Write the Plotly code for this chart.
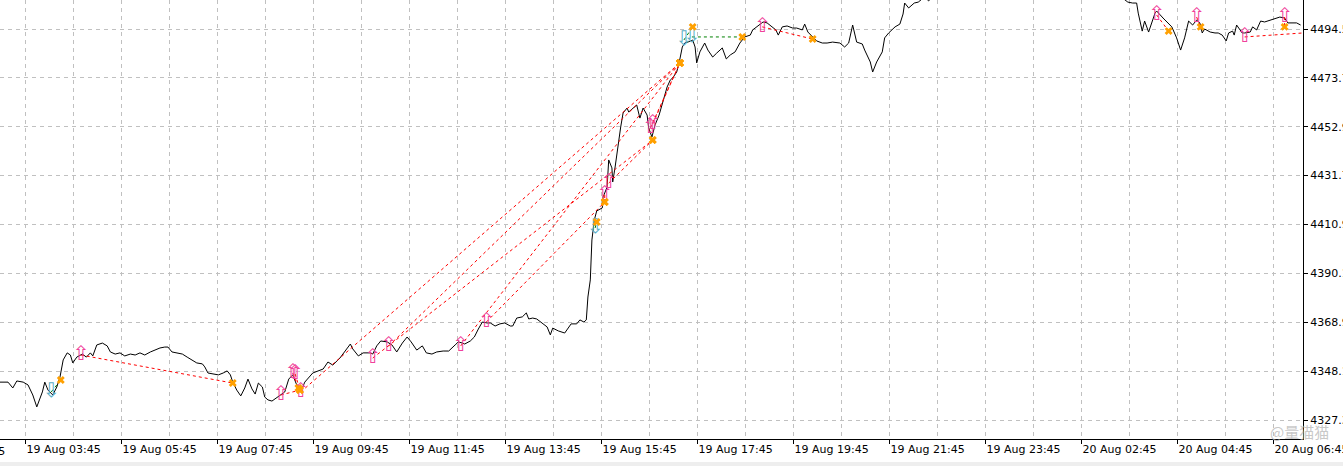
import plotly.graph_objects as go

# chart-time minutes from 19 Aug 03:45 (M5 bars, the daily break hour is skipped)
t = [
    -32, -22, -16, -11, -3, 3, 9, 14, 21, 24,
    28, 34, 39, 43, 47, 52, 56, 59, 64, 71,
    76, 81, 84, 89, 96, 102, 106, 112, 118, 124,
    131, 137, 143, 149, 156, 162, 168, 174, 178, 183,
    189, 196, 202, 208, 214, 221, 224, 228, 234, 241,
    247, 252, 256, 259, 264, 269, 274, 278, 283, 287,
    291, 296, 299, 303, 308, 313, 318, 324, 329, 334,
    338, 341, 346, 349, 359, 368, 372, 378, 384, 393,
    399, 406, 409, 416, 422, 431, 434, 439, 444, 452,
    458, 464, 471, 477, 482, 489, 496, 501, 508, 514,
    522, 529, 537, 541, 546, 549, 556, 561, 566, 571,
    577, 581, 587, 593, 599, 606, 609, 614, 621, 626,
    629, 634, 639, 646, 652, 656, 659, 666, 674, 682,
    689, 693, 698, 701, 703, 706, 708, 711, 714, 721,
    722, 727, 729, 733, 734, 737, 741, 744, 747, 752,
    754, 759, 764, 768, 772, 777, 779, 783, 787, 792,
    797, 802, 806, 809, 814, 817, 821, 824, 828, 834,
    837, 839, 843, 849, 853, 859, 864, 871, 876, 881,
    887, 893, 899, 906, 909, 916, 922, 927, 933, 938,
    941, 946, 952, 959, 964, 971, 974, 978, 984, 989,
    996, 1002, 1009, 1018, 1024, 1029, 1034, 1039, 1046, 1049,
    1056, 1059, 1064, 1071, 1074, 1079, 1087, 1093, 1097, 1099,
    1104, 1111, 1116, 1119, 1124, 1129, 1136, 1156, 1193, 1231,
    1268, 1306, 1343, 1368, 1374, 1378, 1384, 1389, 1391, 1396,
    1399, 1404, 1412, 1414, 1422, 1428, 1433, 1439, 1444, 1449,
    1454, 1459, 1464, 1468, 1471, 1474, 1481, 1487, 1491, 1496,
    1501, 1504, 1509, 1511, 1514, 1521, 1524, 1531, 1534, 1539,
    1544, 1549, 1556, 1562, 1568, 1574, 1578, 1589, 1594,
]
price = [
    4343.5, 4343.5, 4341.0, 4344.0, 4343.5, 4342.3, 4338.0, 4332.9, 4339.3, 4343.5,
    4340.1, 4338.0, 4341.4, 4345.7, 4353.0, 4356.0, 4355.1, 4351.7, 4354.2, 4355.5,
    4354.2, 4356.0, 4354.7, 4359.4, 4360.2, 4359.0, 4356.4, 4355.5, 4356.0, 4354.7,
    4355.5, 4355.1, 4356.0, 4355.1, 4356.4, 4357.2, 4358.1, 4358.5, 4358.5, 4356.4,
    4356.0, 4355.5, 4354.2, 4353.0, 4351.7, 4351.3, 4350.0, 4347.4, 4347.0, 4346.6,
    4347.4, 4348.3, 4346.6, 4343.5, 4340.1, 4337.6, 4341.0, 4344.8, 4340.6, 4338.4,
    4343.1, 4341.4, 4337.1, 4335.9, 4335.4, 4336.7, 4338.0, 4339.3, 4344.8, 4346.6,
    4343.1, 4341.0, 4341.0, 4343.5, 4347.4, 4348.7, 4349.1, 4352.1, 4350.8, 4353.8,
    4356.4, 4359.8, 4357.7, 4354.7, 4356.0, 4356.0, 4355.5, 4359.0, 4361.1, 4360.7,
    4359.4, 4356.4, 4360.2, 4362.8, 4360.7, 4357.2, 4359.0, 4356.0, 4355.5, 4356.4,
    4356.8, 4356.8, 4359.4, 4360.7, 4360.2, 4359.8, 4361.1, 4362.8, 4366.2, 4369.2,
    4368.8, 4368.8, 4367.5, 4368.4, 4368.8, 4367.5, 4367.5, 4370.9, 4371.4, 4373.1,
    4370.5, 4370.9, 4370.5, 4368.8, 4367.1, 4363.7, 4366.6, 4365.4, 4364.5, 4368.4,
    4368.4, 4370.1, 4369.2, 4370.1, 4379.9, 4387.2, 4404.3, 4412.8, 4416.7, 4418.0,
    4422.7, 4426.9, 4438.5, 4435.1, 4429.1, 4435.5, 4445.8, 4452.6, 4458.6, 4460.7,
    4459.0, 4460.7, 4462.0, 4456.4, 4460.7, 4457.7, 4452.2, 4448.3, 4453.5, 4457.7,
    4464.1, 4469.7, 4472.7, 4473.6, 4476.1, 4480.0, 4486.8, 4488.5, 4488.9, 4489.8,
    4486.8, 4480.0, 4484.7, 4488.5, 4485.5, 4482.5, 4484.2, 4486.4, 4481.7, 4483.4,
    4484.7, 4488.5, 4491.1, 4491.9, 4494.1, 4495.8, 4497.5, 4497.1, 4495.4, 4494.1,
    4491.9, 4495.4, 4495.8, 4494.9, 4494.9, 4494.1, 4496.6, 4493.2, 4491.1, 4489.4,
    4488.5, 4488.5, 4488.9, 4488.5, 4486.8, 4488.5, 4496.2, 4488.9, 4488.1, 4485.5,
    4480.4, 4476.1, 4480.4, 4484.7, 4490.7, 4492.8, 4495.4, 4496.6, 4500.9, 4505.6,
    4503.5, 4505.6, 4506.0, 4506.9, 4508.2, 4506.5, 4509.5, 4512.9, 4515.5, 4517.2,
    4516.3, 4514.6, 4512.0, 4508.6, 4506.9, 4506.0, 4505.6, 4505.6, 4501.3, 4493.6,
    4497.9, 4493.2, 4501.3, 4502.2, 4499.2, 4497.1, 4495.4, 4490.7, 4485.5, 4490.7,
    4497.9, 4496.2, 4498.3, 4497.1, 4492.8, 4494.5, 4493.2, 4492.8, 4492.8, 4491.9,
    4489.4, 4492.8, 4493.6, 4491.9, 4496.2, 4492.8, 4492.8, 4493.2, 4495.4, 4494.1,
    4497.9, 4497.5, 4498.3, 4498.8, 4499.6, 4499.2, 4497.1, 4497.1, 4496.2,
]

# trades drawn by the EA: open arrow -> close cross, joined by a dashed line
trade_side = ["sell", "buy", "buy", "buy", "buy", "buy", "buy", "buy", "buy", "buy",
              "sell", "buy", "buy", "buy", "buy", "sell", "sell", "buy", "buy", "buy",
              "buy", "buy"]
open_t = [32, 69, 319, 334, 337, 344, 434, 454, 544, 576,
          712, 724, 729, 781, 784, 823, 833, 921, 1414, 1464,
          1524, 1574]
open_price = [4339.3, 4355.1, 4338.0, 4347.4, 4347.0, 4339.3, 4353.8, 4359.0, 4359.0, 4369.2,
              4409.4, 4423.5, 4428.6, 4452.2, 4453.9, 4489.8, 4491.1, 4495.4, 4500.5, 4499.6,
              4491.1, 4499.6]
close_t = [44, 259, 343, 341, 343, 818, 784, 818, 818, 724,
           714, 724, 784, 818, 818, 834, 896, 984, 1429, 1469,
           1597, 1574]
close_price = [4344.4, 4343.1, 4340.1, 4341.0, 4340.1, 4480.0, 4447.0, 4480.0, 4480.0, 4420.5,
               4412.0, 4420.5, 4447.0, 4480.0, 4480.0, 4495.4, 4491.1, 4490.2, 4493.6, 4495.4,
               4492.8, 4495.4]
trade_closed = [True] * 20 + [False, True]

ytick_vals = [4327.3, 4348.2, 4369.1, 4390.0, 4410.9, 4431.8, 4452.7, 4473.6, 4494.5]
ytick_text = ["4327.37", "4348.17", "4368.97", "4390.17", "4410.97",
              "4431.77", "4452.97", "4473.77", "4494.57"]
xtick_vals = [0, 120, 240, 360, 480, 600, 720, 840, 960, 1080, 1200, 1320, 1440, 1560]
xtick_text = ["19 Aug 03:45", "19 Aug 05:45", "19 Aug 07:45", "19 Aug 09:45",
              "19 Aug 11:45", "19 Aug 13:45", "19 Aug 15:45", "19 Aug 17:45",
              "19 Aug 19:45", "19 Aug 21:45", "19 Aug 23:45", "20 Aug 02:45",
              "20 Aug 04:45", "20 Aug 06:45"]

FONT = "DejaVu Sans"
GRID = "#C0C0C0"

fig = go.Figure()

# --- price line ---
fig.add_trace(go.Scatter(x=t, y=price, mode="lines",
                         line=dict(color="black", width=1), hoverinfo="skip"))

# --- trade lines ---
for side, color in (("buy", "#FF0000"), ("sell", "#008000")):
    xs, ys = [], []
    for i, s in enumerate(trade_side):
        if s == side:
            xs += [open_t[i], close_t[i], None]
            ys += [open_price[i], close_price[i], None]
    fig.add_trace(go.Scatter(x=xs, y=ys, mode="lines",
                             line=dict(color=color, width=1, dash="3px,3px"),
                             hoverinfo="skip"))

# --- open arrows ---
buy_idx = [i for i, s in enumerate(trade_side) if s == "buy"]
sell_idx = [i for i, s in enumerate(trade_side) if s == "sell"]
fig.add_trace(go.Scatter(
    x=[open_t[i] for i in buy_idx], y=[open_price[i] for i in buy_idx],
    mode="text", text=["⇧"] * len(buy_idx), textposition="middle center",
    textfont=dict(family=FONT, size=20, color="#F0409A"), hoverinfo="skip"))
fig.add_trace(go.Scatter(
    x=[open_t[i] for i in sell_idx], y=[open_price[i] for i in sell_idx],
    mode="text", text=["⇩"] * len(sell_idx), textposition="middle center",
    textfont=dict(family=FONT, size=20, color="#5AAEC6"), hoverinfo="skip"))

# --- close crosses ---
ci = [i for i in range(len(trade_side)) if trade_closed[i]]
fig.add_trace(go.Scatter(
    x=[close_t[i] for i in ci], y=[close_price[i] for i in ci], mode="markers",
    marker=dict(symbol="x", size=7, color="#FFA000", line=dict(width=0)),
    hoverinfo="skip"))

# left label cut by the window edge
fig.add_annotation(text="19 Aug 01:45", xref="paper", yref="paper", x=0, y=0,
                   xanchor="right", yanchor="top", xshift=7, yshift=-4,
                   showarrow=False, font=dict(family=FONT, size=11, color="black"))

# watermark
fig.add_annotation(text="@量猫猫", xref="paper", yref="paper", x=1, y=0.018,
                   xanchor="right", yanchor="middle", xshift=28, showarrow=False,
                   font=dict(family="Noto Sans CJK SC", size=15, color="rgba(175,175,175,0.7)"))

# window border strip at the bottom
fig.add_shape(type="rect", xref="paper", yref="paper", x0=-0.01, x1=1.04,
              y0=-0.0625, y1=-0.0525, fillcolor="#EEEEEE", line=dict(width=0), layer="below")

fig.update_layout(
    template="none",
    width=1343, height=466,
    margin=dict(l=0, r=40, t=0, b=27),
    plot_bgcolor="white", paper_bgcolor="white",
    showlegend=False,
    font=dict(family=FONT, size=11, color="black"),
)
fig.update_xaxes(
    range=[-32, 1597], tickmode="array", tickvals=xtick_vals, ticktext=xtick_text,
    ticks="outside", ticklen=4, tickcolor="black",
    ticklabelposition="outside right", ticklabeloverflow="allow",
    showgrid=True, gridcolor=GRID, gridwidth=1, griddash="4px,4px",
    minor=dict(tickmode="linear", tick0=0, dtick=60, showgrid=True,
               gridcolor=GRID, gridwidth=1, griddash="4px,4px", ticks=""),
    showline=True, linecolor="black", linewidth=1, zeroline=False, automargin=False,
    tickfont=dict(family=FONT, size=11, color="black"),
)
fig.update_yaxes(
    side="right", range=[4319.18, 4506.9], tickmode="array",
    tickvals=ytick_vals, ticktext=ytick_text,
    ticks="outside", ticklen=4, tickcolor="black", ticklabeloverflow="allow",
    showgrid=True, gridcolor=GRID, gridwidth=1, griddash="4px,4px",
    showline=True, linecolor="black", linewidth=1, zeroline=False, automargin=False,
    tickfont=dict(family=FONT, size=11, color="black"),
)

# the page's default body margin would push the chart off its corner
fig.write_html("out.html", config={"displayModeBar": False},
               post_script="document.body.style.margin='0';")
